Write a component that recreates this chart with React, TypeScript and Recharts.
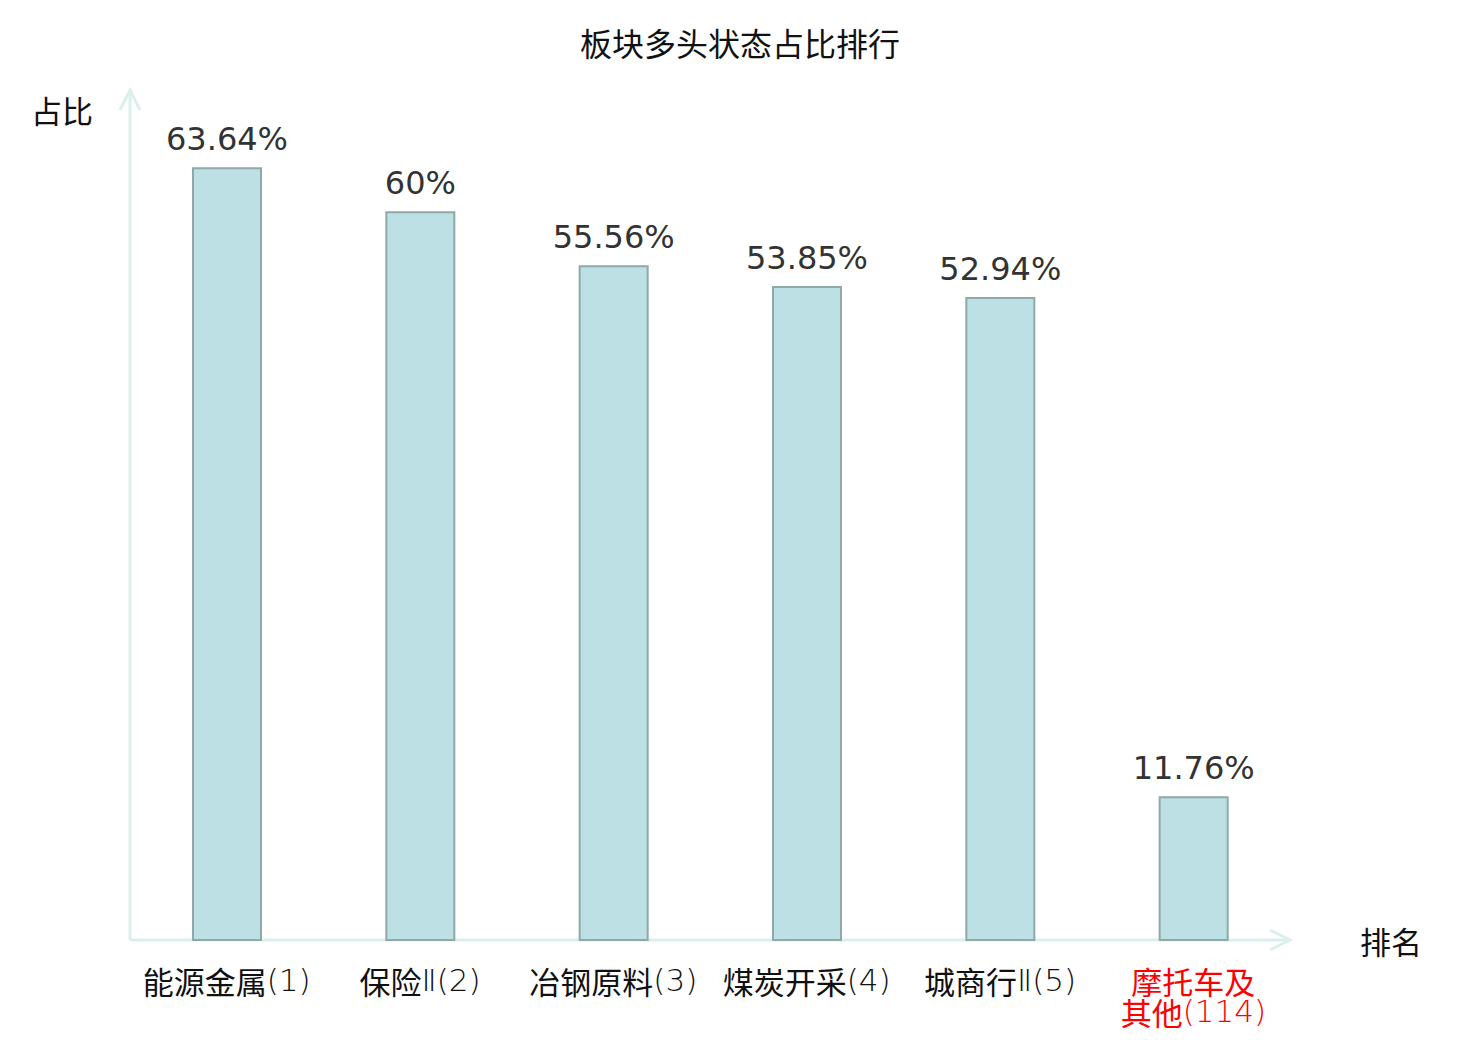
import React from 'react';
import { BarChart, Bar, XAxis, YAxis, LabelList, usePlotArea } from 'recharts';

const categories = ['能源金属(1)', '保险Ⅱ(2)', '冶钢原料(3)', '煤炭开采(4)', '城商行Ⅱ(5)', '摩托车及\n其他(114)'];
const shares = [63.64, 60, 55.56, 53.85, 52.94, 11.76];
const highlighted = ['摩托车及\n其他(114)'];
const yDomain = [0, 70];

const data = categories.map((name, i) => ({ name, value: shares[i] }));

const CJK = '"Noto Sans CJK SC", "Noto Sans", sans-serif';
const LATIN_LIGHT = '"DejaVu Sans", sans-serif';
const AXIS_COLOR = '#dbf0ed';

const AxisDecor = () => {
  const area = usePlotArea();
  if (!area) return null;
  const { x, y, width, height } = area;
  const left = x;
  const right = x + width;
  const top = y;
  const bottom = y + height;
  return (
    <g>
      <line x1={left} y1={bottom} x2={left} y2={top - 1} stroke={AXIS_COLOR} strokeWidth={3} />
      <polyline points={`${left - 10},${top + 19} ${left},${top - 1} ${left + 10},${top + 19}`} fill="none" stroke={AXIS_COLOR} strokeWidth={3} />
      <line x1={left} y1={bottom} x2={right} y2={bottom} stroke={AXIS_COLOR} strokeWidth={3} />
      <polyline points={`${right - 20},${bottom - 10} ${right},${bottom} ${right - 20},${bottom + 10}`} fill="none" stroke={AXIS_COLOR} strokeWidth={3} />
      <text x={left - 37} y={top + 18} textAnchor="end" dominantBaseline="central" fontFamily={CJK} fontSize={31} fill="#111">占比</text>
      <text x={right + 70} y={bottom} textAnchor="start" dominantBaseline="central" fontFamily={CJK} fontSize={31} fill="#111">排名</text>
    </g>
  );
};

const splitRuns = (s: string) => {
  const runs: { t: string; cjk: boolean }[] = [];
  for (const ch of s) {
    const cjk = /[\u4e00-\u9fff]/.test(ch);
    const last = runs[runs.length - 1];
    if (last && last.cjk === cjk) last.t += ch;
    else runs.push({ t: ch, cjk });
  }
  return runs;
};

const CategoryTick = (props: any) => {
  const { x, y, payload } = props;
  const label: string = payload.value;
  const lines = label.split('\n');
  const isHi = highlighted.includes(label);
  return (
    <g>
      {lines.map((ln, i) => (
        <text key={i} x={x} y={y + 32 + i * 31} textAnchor="middle" dominantBaseline="central" fontSize={31} fill={isHi ? '#ff0000' : '#111'}>
          {splitRuns(ln).map((r, j) => (
            <tspan key={j} fontFamily={r.cjk ? CJK : LATIN_LIGHT} fontWeight={r.cjk ? 400 : 200}>{r.t}</tspan>
          ))}
        </text>
      ))}
    </g>
  );
};

const ValueLabel = (props: any) => {
  const { x, y, width, value } = props;
  return (
    <text x={x + width / 2} y={y - 18} textAnchor="middle" fontFamily='"DejaVu Sans", sans-serif' fontSize={32} fill="#333">
      {`${value}%`}
    </text>
  );
};

export default function App() {
  return (
    <div style={{ width: 1464, height: 1024, position: 'relative' }}>
      <BarChart width={1464} height={1024} data={data} margin={{ top: 83, right: 182, bottom: 32, left: 122 }}>
        <text x={732} y={34} textAnchor="middle" dominantBaseline="central" fontFamily={CJK} fontSize={32} fill="#111">板块多头状态占比排行</text>
        <AxisDecor />
        <XAxis dataKey="name" axisLine={false} tickLine={false} interval={0} height={60} tick={<CategoryTick />} />
        <YAxis hide domain={yDomain} />
        <Bar dataKey="value" barSize={68} fill="#bce0e3" stroke="#8fa8a8" strokeWidth={2} isAnimationActive={false}>
          <LabelList dataKey="value" content={<ValueLabel />} />
        </Bar>
      </BarChart>
    </div>
  );
}
